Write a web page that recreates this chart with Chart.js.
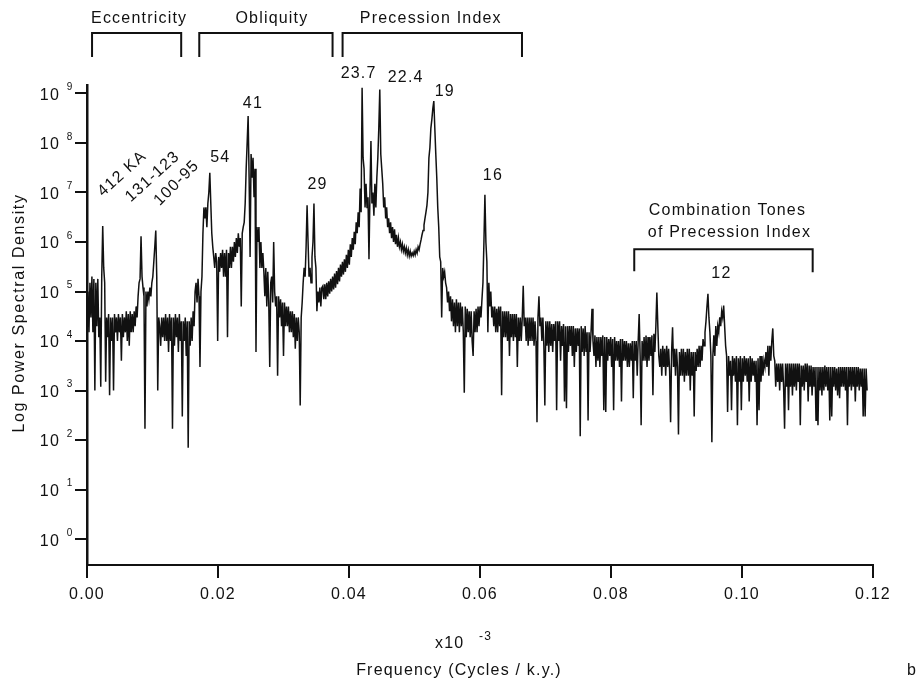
<!DOCTYPE html>
<html>
<head>
<meta charset="utf-8">
<script src="https://cdn.jsdelivr.net/npm/chart.js@4.4.0/dist/chart.umd.min.js"></script>
<style>
  html, body { margin: 0; padding: 0; background: #fff; }
</style>
</head>
<body>
<canvas id="spectrum" width="918" height="682"></canvas>
<script>
const Freq_step = 0.00015;
const Power = [
  2e4, 1e5, 1.5e4, 1.5e5, 3e4, 2e5, 1.5e4, 1.8e5, 1e3, 1.5e5, 2e4, 1.8e5, 1.2e4, 3e4, 1.2e3, 2e5, 2.1e6, 3e5, 1.5e5, 1.5e3, // 0.000
  3e4, 1.2e4, 3.5e4, 8e2, 3e4, 1e4, 3e4, 1e3, 3.5e4, 1.5e4, 3e4, 1e4, 3.5e4, 1.5e4, 3e4, 4e3, 3.5e4, 1.2e4, 3e4, 1.5e4, // 0.003
  4e4, 1e4, 3.5e4, 8e3, 4e4, 1.5e4, 3.5e4, 1.5e4, 4e4, 2e4, 5e4, 3e4, 8e4, 1.5e5, 1.8e5, 1.3e6, 2e5, 1.2e5, 8e4, 1.7e2, // 0.006
  1e5, 5e4, 1e5, 7e4, 1.2e5, 8e4, 1.5e5, 2e5, 4e5, 8e5, 1.7e6, 2e5, 1e3, 3e4, 2e4, 8e3, 3e4, 1.2e4, 3e4, 1e4, // 0.009
  3.5e4, 1e4, 3e4, 6e3, 3.5e4, 1e4, 3e4, 1.7e2, 3e4, 8e3, 3.5e4, 1.2e4, 3e4, 6e3, 3.5e4, 1e4, 2.5e4, 3e2, 2.5e4, 1e4, // 0.012
  3e4, 5e3, 2.5e4, 7e1, 2.5e4, 8e3, 3e4, 1e4, 4e4, 2e4, 1e5, 1.5e5, 6e4, 1.8e5, 8e4, 3e3, 1e5, 2e5, 1.5e6, 5e6, // 0.015
  3e6, 5e6, 2e6, 6e6, 1e7, 2.5e7, 6e6, 1.5e6, 8e5, 5e5, 3e5, 6e5, 4e5, 1e4, 5e5, 2.5e5, 6e5, 3e5, 7e5, 2e5, // 0.018
  6e5, 2e5, 7e5, 1.2e4, 6e5, 3e5, 8e5, 3e5, 8e5, 4e5, 1e6, 5e5, 1.2e6, 6e5, 1.5e6, 8e5, 1.2e6, 5e4, 1.5e6, 2e6, // 0.021
  2.5e6, 6e6, 3e7, 1e8, 3.5e8, 2e7, 5e5, 6e7, 2e7, 5e7, 8e6, 3e7, 6e3, 2e6, 1e6, 2e6, 3e5, 1e6, 3e5, 6e5, // 0.024
  2.5e5, 8e4, 3e5, 5e4, 2.5e5, 6e4, 3e3, 1.5e5, 2e5, 6e4, 1e6, 1e5, 5e4, 8e4, 2e3, 8e4, 3e4, 7e4, 2e4, 6e4, // 0.027
  5e3, 6e4, 2e4, 5e4, 2e4, 5e4, 1.5e4, 4e4, 1.5e4, 4e4, 1.2e4, 3.5e4, 7e3, 3e4, 1e4, 3e4, 1.5e4, 5e2, 3e4, 6e4, // 0.030
  1.5e5, 3e5, 2e5, 8e5, 5.5e6, 1e6, 2e5, 3e5, 1.5e5, 5e5, 1e6, 6e6, 5e5, 3e5, 4e4, 1e5, 6e4, 1.2e5, 5e4, 1.2e5, // 0.033
  1.3e5, 7e4, 1.4e5, 7e4, 1.5e5, 8e4, 1.6e5, 9e4, 1.8e5, 1e5, 2e5, 1.1e5, 2.3e5, 1.2e5, 2.6e5, 1.4e5, 3e5, 1.6e5, 3.5e5, 2e5, // 0.036
  4e5, 2.2e5, 4.5e5, 2.5e5, 5.5e5, 3e5, 7e5, 3.5e5, 9e5, 5e5, 1.2e6, 7e5, 1.6e6, 9e5, 2.5e6, 1.5e6, 4e6, 2e6, 1.2e7, 4e6, // 0.039
  1.3e9, 5e7, 3e7, 5e6, 1.5e7, 5e6, 8e6, 4.5e5, 1e7, 1.1e8, 6e6, 1e7, 3.4e6, 1.5e7, 5e6, 2e7, 5e7, 2e8, 1.2e9, 6e7, // 0.042
  3e7, 1.5e7, 5e6, 8e6, 3e6, 5e6, 2e6, 3e6, 1.5e6, 2.5e6, 1.2e6, 2e6, 1e6, 1.8e6, 9e5, 1.4e6, 8e5, 1.2e6, 8e5, 1e6, // 0.045
  7e5, 9e5, 6.5e5, 8e5, 6e5, 7.5e5, 5.5e5, 7e5, 5.2e5, 6.5e5, 5.2e5, 6e5, 5.3e5, 6.5e5, 5.5e5, 7e5, 6e5, 8e5, 7e5, 9e5, // 0.048
  1.1e6, 1.4e6, 1.7e6, 2.2e6, 3e6, 4e6, 5.5e6, 1e7, 5e7, 8e7, 2e8, 3e8, 5e8, 7e8, 2e8, 6e7, 2e7, 5e6, 2e6, 5e5, // 0.051
  4e5, 3e4, 3e5, 2e5, 2.5e5, 1.5e5, 1.2e5, 6e4, 1e5, 4e4, 8e4, 2.5e4, 7e4, 2e4, 6e4, 1.5e4, 7e4, 2e4, 6e4, 1.5e4, // 0.054
  6e4, 2e4, 5e4, 1.5e4, 9e2, 5e4, 1.2e4, 4.5e4, 1.5e4, 4e4, 1.2e4, 4e4, 1e4, 5e3, 4e4, 1.5e4, 4.5e4, 1.5e4, 5e4, 2e4, // 0.057
  5e4, 3e4, 7e4, 1.5e5, 1e6, 9e6, 1e6, 4e5, 1.5e4, 1.5e5, 5e4, 1e5, 3e4, 5e4, 2e4, 5e4, 1.5e4, 4.5e4, 1.5e4, 5e4, // 0.060
  2e4, 5e4, 8e2, 4e4, 1.2e4, 4e4, 1.2e4, 4e4, 1e4, 4e4, 5e3, 3.5e4, 1.2e4, 3.5e4, 1e4, 3.5e4, 1.2e4, 3.5e4, 3e3, 3e4, // 0.063
  1e4, 3e4, 1e4, 3e4, 1.3e5, 2e4, 3e4, 1e4, 3e4, 8e3, 3e4, 1e4, 3e4, 1e4, 3e4, 8e3, 2.5e4, 1e4, 2.3e2, 3e4, // 0.066
  8e4, 2e4, 3e4, 1e4, 3e4, 8e3, 5e2, 2.5e4, 8e3, 2.5e4, 6e3, 2.5e4, 8e3, 2.2e4, 6e3, 2.2e4, 1e4, 2.5e4, 4e2, 2.5e4, // 0.069
  1e4, 2.5e4, 4e3, 2e4, 8e3, 2.2e4, 6e2, 2e4, 4.4e2, 2e4, 6e3, 2e4, 8e3, 2e4, 5e3, 2e4, 3e3, 1.8e4, 6e3, 1.8e4, // 0.072
  8e3, 1.8e4, 1.2e2, 2e4, 6e3, 1.8e4, 5e3, 2e4, 6e3, 1.5e4, 2.5e2, 1.5e4, 6e3, 1.5e4, 4.5e4, 1e4, 5e3, 1.3e4, 3e3, 1.2e4, // 0.075
  4e3, 1.2e4, 3e3, 1.2e4, 5e3, 1.3e4, 4e2, 1.2e4, 3.7e2, 1.2e4, 4e3, 1.1e4, 5e3, 1.2e4, 3e3, 1.1e4, 4e2, 1.2e4, 4e3, 1e4, // 0.078
  4e3, 1e4, 3e3, 1.1e4, 6e2, 1.1e4, 4e3, 1e4, 4e3, 1e4, 3e3, 9e3, 3e3, 9e3, 4e3, 1e4, 7e2, 1e4, 4e3, 1e4, // 0.081
  2e3, 1e4, 3.5e4, 5e3, 2e2, 1e4, 4e3, 1.2e4, 4e3, 1.3e4, 3e3, 1.2e4, 4e3, 1.2e4, 5e3, 1.3e4, 8e2, 1.4e4, 6e3, 2e4, // 0.084
  9.5e4, 2e4, 5e3, 3e3, 7e3, 2e3, 8e3, 3e3, 7e3, 2e3, 8e3, 3e3, 7e3, 2.5e3, 2.3e2, 6e3, 1.9e4, 3e3, 7e3, 2e3, // 0.087
  7e3, 3e3, 1.3e2, 6e3, 2e3, 7e3, 2e3, 7e3, 1.5e3, 6e3, 2e3, 7e3, 2e3, 7e3, 1e3, 6e3, 2e3, 6e3, 3e2, 6e3, // 0.090
  2.5e3, 7e3, 3e3, 8e3, 3e3, 8e3, 4e3, 1.1e4, 8e3, 1.5e4, 2.5e4, 5e4, 9e4, 3e4, 1.5e4, 5e3, 9e1, 5e3, 1.3e4, 5e3, // 0.093
  2e4, 8e3, 2e4, 1.5e4, 3e4, 2e4, 4e4, 3e4, 5.2e4, 2e4, 8e3, 5e3, 3.7e2, 5e3, 2e3, 4e3, 4e2, 5e3, 2e3, 4.5e3, // 0.096
  1.5e3, 5e3, 2e2, 4.5e3, 1.5e3, 5e3, 4e2, 4.5e3, 1.5e3, 5e3, 2e3, 4.5e3, 1.5e3, 4.5e3, 6e2, 5e3, 1.5e3, 4.5e3, 2e3, 4e3, // 0.099
  1.5e3, 4e3, 2e2, 4.5e3, 4e2, 5e3, 1.5e3, 5e3, 2e3, 4e3, 3e3, 6e3, 3e3, 8e3, 2e3, 8e3, 4e3, 1e4, 1.8e4, 5e3, // 0.102
  4e3, 1.2e3, 3.5e3, 1.5e3, 3.5e3, 1e3, 3.5e3, 1.5e3, 3.5e3, 1.2e3, 1.7e2, 3.5e3, 1.2e3, 3.5e3, 4e2, 3.5e3, 1.2e3, 3.5e3, 8e2, 3.5e3, // 0.105
  1.2e3, 3.5e3, 1e3, 3.5e3, 1.5e3, 3.5e3, 2e2, 3.2e3, 1.2e3, 3.2e3, 1e3, 3.5e3, 1.5e3, 3.5e3, 6e2, 3.2e3, 1.2e3, 3.2e3, 8e2, 3e3, // 0.108
  1.2e3, 3e3, 2.5e2, 3e3, 2e2, 3e3, 1e3, 3e3, 8e2, 3e3, 1e3, 3.2e3, 1.2e3, 3e3, 1e3, 3e3, 2.5e2, 3e3, 3e2, 3e3, // 0.111
  1.2e3, 3e3, 1e3, 2.8e3, 8e2, 3e3, 7e2, 3e3, 1.2e3, 3e3, 1.2e3, 3e3, 1e3, 3e3, 2e2, 3e3, 1.2e3, 3e3, 1e3, 3e3, // 0.114
  1.2e3, 3e3, 6e2, 3e3, 1.2e3, 3e3, 1e3, 2.8e3, 1.2e3, 2.8e3, 3e2, 2.8e3, 3e2, 2.8e3, 1e3 // 0.117
];
const X_ticks = [0, 0.02, 0.04, 0.06, 0.08, 0.10, 0.12];
const Y_exponents = [0, 1, 2, 3, 4, 5, 6, 7, 8, 9];

// peak labels: [text, frequency, log10 power, rotation deg]
const Peak_labels = [
  ["412 KA", 0.00536, 7.38, -42],
  ["131-123", 0.01002, 7.32, -42],
  ["100-95", 0.01370, 7.19, -45],
  ["54", 0.02035, 7.71, 0],
  ["41", 0.02533, 8.79, 0],
  ["29", 0.0352, 7.15, 0],
  ["23.7", 0.04147, 9.41, 0],
  ["22.4", 0.04866, 9.33, 0],
  ["19", 0.05463, 9.03, 0],
  ["16", 0.06197, 7.35, 0],
  ["12", 0.09686, 5.37, 0],
];
// header groups: [text, from freq, to freq, text centre freq]
const Groups = [
  ["Eccentricity", 0.00077, 0.01438, 0.00796],
  ["Obliquity", 0.01714, 0.03749, 0.02823],
  ["Precession Index", 0.03902, 0.06641, 0.05249],
];
const Combo_lines = ["Combination Tones", "of Precession Index"];
const Combo_range = [0.08355, 0.11079];

const Font = "'Liberation Sans', Arial, Helvetica, sans-serif";
const Ink = '#111';

const annotate = {
  id: 'annotate',
  beforeDraw(chart) {
    chart.ctx.letterSpacing = '1.2px';
  },
  afterDraw(chart) {
    const ctx = chart.ctx;
    const xs = chart.scales.x, ys = chart.scales.y;
    const area = chart.chartArea;
    const px = f => xs.getPixelForValue(f);
    const py = l => ys.getPixelForValue(Math.pow(10, l));
    ctx.save();
    ctx.fillStyle = Ink;
    ctx.strokeStyle = Ink;
    ctx.textAlign = 'center';
    ctx.textBaseline = 'middle';

    // exponents on y tick labels
    ctx.font = '10px ' + Font;
    ctx.letterSpacing = '0px';
    for (const k of Y_exponents) {
      ctx.fillText(String(k), 69.5, ys.getPixelForValue(Math.pow(10, k)) - 6);
    }

    // y title
    ctx.font = '16px ' + Font;
    ctx.letterSpacing = '1.6px';
    ctx.save();
    ctx.translate(20, (area.top + area.bottom) / 2 - 12);
    ctx.rotate(-Math.PI / 2);
    ctx.fillText('Log Power Spectral Density', 0, 0);
    ctx.restore();
    ctx.letterSpacing = '1.2px';

    // x title
    ctx.textAlign = 'left';
    ctx.fillText('x10', 435, 644);
    ctx.font = '12px ' + Font;
    ctx.fillText('-3', 479, 637);
    ctx.font = '16px ' + Font;
    ctx.textAlign = 'center';
    ctx.fillText('Frequency (Cycles / k.y.)', 459, 671);
    ctx.textAlign = 'left';
    ctx.fillText('b', 907, 671);
    ctx.textAlign = 'center';

    // header brackets
    ctx.lineWidth = 2;
    for (const [text, f0, f1, fc] of Groups) {
      ctx.fillText(text, px(fc), area.top - 66);
      ctx.beginPath();
      ctx.moveTo(px(f0), area.top - 28);
      ctx.lineTo(px(f0), area.top - 52);
      ctx.lineTo(px(f1), area.top - 52);
      ctx.lineTo(px(f1), area.top - 28);
      ctx.stroke();
    }

    // peak labels
    for (const [text, f, l, rot] of Peak_labels) {
      ctx.save();
      ctx.translate(px(f), py(l));
      ctx.rotate(rot * Math.PI / 180);
      ctx.fillText(text, 0, 0);
      ctx.restore();
    }

    // combination tones
    ctx.fillText(Combo_lines[0], px(0.09778), py(6.64));
    ctx.fillText(Combo_lines[1], px(0.09809), py(6.20));
    ctx.beginPath();
    ctx.moveTo(px(Combo_range[0]), py(5.41));
    ctx.lineTo(px(Combo_range[0]), py(5.855));
    ctx.lineTo(px(Combo_range[1]), py(5.855));
    ctx.lineTo(px(Combo_range[1]), py(5.39));
    ctx.stroke();
    ctx.restore();
  }
};

new Chart(document.getElementById('spectrum'), {
  type: 'line',
  data: {
    datasets: [{
      data: Power.map((p, i) => ({x: i * Freq_step, y: p})),
      borderColor: Ink,
      borderWidth: 1.5,
      pointRadius: 0,
      tension: 0,
      fill: false,
    }]
  },
  options: {
    responsive: false,
    animation: false,
    events: [],
    layout: {padding: {left: 0, right: 45, top: 85, bottom: 0}},
    plugins: {legend: {display: false}, tooltip: {enabled: false}},
    scales: {
      x: {
        type: 'linear', min: 0, max: 0.12,
        afterBuildTicks: s => { s.ticks = X_ticks.map(v => ({value: v})); },
        afterFit: s => { s.height = 117; },
        ticks: {
          callback: v => v.toFixed(2), autoSkip: false, maxRotation: 0,
          font: {family: Font, size: 16}, color: Ink, padding: 7,
        },
        grid: {drawOnChartArea: false, tickLength: 13, color: Ink, lineWidth: 2},
        border: {display: true, color: Ink, width: 2},
      },
      y: {
        type: 'logarithmic', min: Math.pow(10, -0.483), max: Math.pow(10, 9.171),
        afterBuildTicks: s => { s.ticks = Y_exponents.map(k => ({value: Math.pow(10, k)})); },
        afterFit: s => { s.width = 87; },
        ticks: {
          callback: () => '10', font: {family: Font, size: 16}, color: Ink,
          padding: 15, labelOffset: 2,
        },
        grid: {drawOnChartArea: false, tickLength: 12, color: Ink, lineWidth: 2},
        border: {display: true, color: Ink, width: 2.5},
      },
    },
  },
  plugins: [annotate],
});
</script>
</body>
</html>
